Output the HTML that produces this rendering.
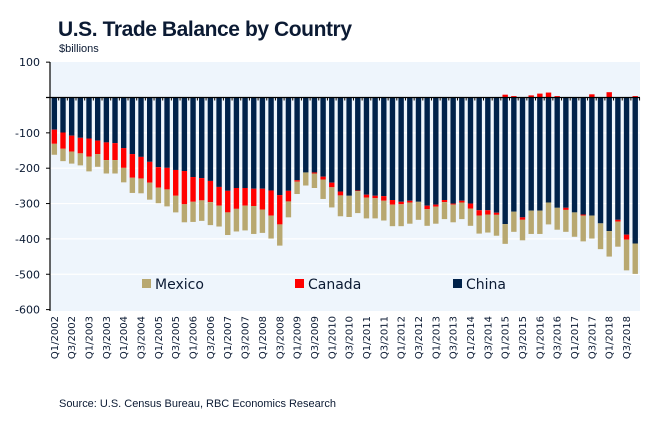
<!DOCTYPE html>
<html><head><meta charset="utf-8"><style>
html,body{margin:0;padding:0;background:#fff;}
svg{display:block;font-family:"DejaVu Sans","Liberation Sans",sans-serif;}
</style></head><body>
<svg id="chart" width="663" height="429" viewBox="0 0 663 429" xmlns="http://www.w3.org/2000/svg">
<text x="58" y="36" font-size="21" font-weight="bold" fill="#0b1a33" font-family="Liberation Sans, sans-serif" textLength="294">U.S. Trade Balance by Country</text>
<text x="59" y="52" font-size="11" fill="#0b1a33" font-family="Liberation Sans, sans-serif">$billions</text>
<rect x="50" y="62" width="590" height="249" fill="#eef5fc"/>
<g id="grid"></g>
<g id="bars"></g>
<g id="axes"></g>
<g id="xlabels"></g>
<g>
<g><rect x="142" y="279" width="9" height="9" fill="#b8a870"/><text x="155" y="289" font-size="14" fill="#0b1a33">Mexico</text></g>
<g><rect x="295" y="279" width="9" height="9" fill="#ff0000"/><text x="308" y="289" font-size="14" fill="#0b1a33">Canada</text></g>
<g><rect x="453" y="279" width="9" height="9" fill="#00224a"/><text x="466" y="289" font-size="14" fill="#0b1a33">China</text></g>
</g>
<text x="59" y="407" font-size="11" fill="#0b1a33" font-family="Liberation Sans, sans-serif" textLength="277">Source: U.S. Census Bureau, RBC Economics Research</text>
</svg>
<script>
const china = [-91,-99,-108,-114,-116,-122,-127,-129,-143,-160,-168,-182,-197,-199,-205,-208,-225,-228,-236,-253,-264,-256,-256,-258,-258,-263,-276,-264,-234,-212,-212,-224,-241,-266,-278,-263,-275,-278,-279,-290,-295,-292,-295,-306,-303,-290,-300,-292,-300,-319,-319,-326,-358,-323,-339,-320,-320,-297,-312,-312,-325,-331,-334,-356,-378,-346,-388,-413];
const canada = [-40,-46,-45,-44,-51,-38,-50,-48,-56,-67,-61,-59,-58,-61,-73,-94,-70,-63,-60,-53,-61,-59,-50,-49,-59,-71,-83,-30,-4,1,-3,-8,-13,-11,0,-2,-8,-7,-13,-13,-7,-5,0,-10,-6,-6,-3,-5,-14,-15,-12,-6,8,4,-7,6,11,14,4,-6,1,-3,9,1,15,-5,-14,4];
const mexico = [-31,-35,-34,-34,-42,-36,-38,-38,-41,-43,-42,-48,-44,-48,-47,-51,-57,-58,-65,-59,-64,-64,-70,-79,-66,-65,-60,-45,-35,-37,-41,-55,-57,-59,-60,-62,-59,-57,-56,-61,-62,-60,-51,-47,-48,-48,-50,-47,-49,-51,-51,-59,-56,-57,-58,-66,-66,-62,-62,-62,-69,-73,-65,-73,-72,-71,-87,-86];
const yTicks = [100,0,-100,-200,-300,-400,-500,-600];
const yTickLabels = ["100","","-100","-200","-300","-400","-500","-600"];
const startYear = 2002;

const NS="http://www.w3.org/2000/svg";
const x0=50, band=8.67, bw=5.4;
const y = v => 97.5 - v*0.3535;
const xc = i => x0 + band*(i+0.5);
function mk(tag, attrs, parent){const e=document.createElementNS(NS,tag);for(const k in attrs)e.setAttribute(k,attrs[k]);parent.appendChild(e);return e;}
const grid=document.getElementById('grid'), bars=document.getElementById('bars'), axes=document.getElementById('axes'), xl=document.getElementById('xlabels');
yTicks.forEach((t,k)=>{
  if(t!==0 && t!==100 && t!==-600){const g=mk('line',{x1:50,x2:640,y1:y(t),y2:y(t),stroke:'#ffffff','stroke-width':1.2},grid);
  
  }
  const tk=mk('line',{x1:46,x2:50,y1:y(t),y2:y(t),stroke:'#000','stroke-width':1},axes);
  
  
  if(yTickLabels[k]){const tx=mk('text',{x:40,y:y(t)+4,'font-size':11,'text-anchor':'end',fill:'#0b1a33'},axes);tx.textContent=yTickLabels[k];
  
  }
});
china.forEach((c,i)=>{
  const left=xc(i)-bw/2;
  const r1=mk('rect',{x:left,y:y(0),width:bw,height:y(c)-y(0),fill:'#00224a'},bars);
  
  
  let ca=canada[i], bottom=c;
  if(ca>=0){
    const r2=mk('rect',{x:left,y:y(ca),width:bw,height:y(0)-y(ca),fill:'#ff0000'},bars);
    
    
  } else {
    const r2=mk('rect',{x:left,y:y(c),width:bw,height:y(c+ca)-y(c),fill:'#ff0000'},bars);
    
    
    bottom=c+ca;
  }
  const r3=mk('rect',{x:left,y:y(bottom),width:bw,height:y(bottom+mexico[i])-y(bottom),fill:'#b8a870'},bars);
  
  
  const tk=mk('line',{x1:x0+band*(i+1),x2:x0+band*(i+1),y1:y(0),y2:y(0)+3,stroke:'#000','stroke-width':1},axes);
  
  
  if(i%2===0){
    const q=(i%4===0)?'Q1':'Q3', yr=startYear+Math.floor(i/4);
    const lx=xc(i)+3.5, ly=316;
    const t=mk('text',{x:lx,y:ly,'font-size':10,'text-anchor':'end',fill:'#0b1a33',transform:`rotate(-90 ${lx} ${ly})`},xl);
    t.textContent=q+'/'+yr;
    
    
  }
});
const a1=mk('line',{x1:50,x2:50,y1:62,y2:311,stroke:'#000','stroke-width':1.2},axes);


const a2=mk('line',{x1:46,x2:640,y1:y(0),y2:y(0),stroke:'#000','stroke-width':1.2},axes);


</script>
</body></html>
